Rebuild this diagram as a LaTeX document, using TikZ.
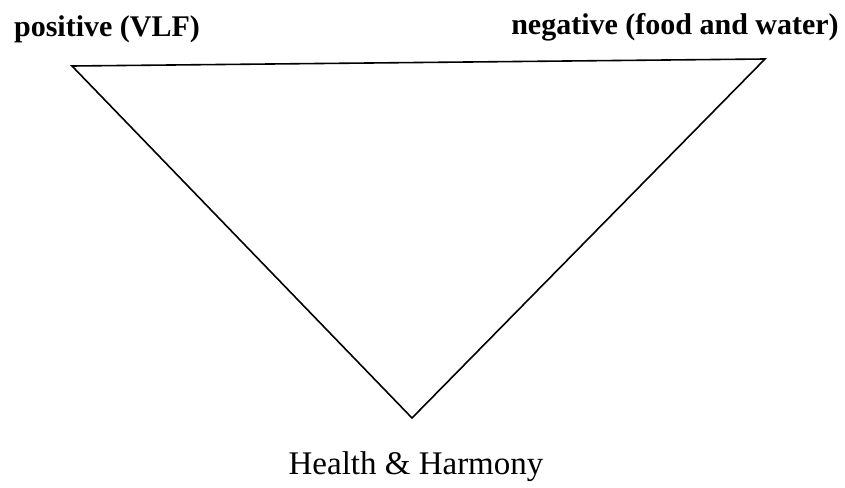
\documentclass[tikz,border=0pt]{standalone}
\usepackage{fontspec}
\setmainfont{Liberation Serif}
\begin{document}
\begin{tikzpicture}[x=1pt,y=-1pt,
  lbl/.style={inner sep=0pt, anchor=center},
  edge/.style={line width=1.6pt, line join=miter}]
\useasboundingbox (0,0) rectangle (845,487);
\coordinate (tl) at (72,66);
\coordinate (tr) at (765,59);
\coordinate (bt) at (412,418);
\draw[edge] (tl) -- (tr) -- (bt) -- cycle;
\node[lbl] (pos) at (107,29) {\fontsize{30}{36}\selectfont\bfseries positive (VLF)};
\node[lbl] (neg) at (675,27) {\fontsize{30}{36}\selectfont\bfseries negative (food and water)};
\node[lbl] (hh) at (416,467) {\fontsize{33}{40}\selectfont Health \& Harmony};
\end{tikzpicture}
\end{document}
